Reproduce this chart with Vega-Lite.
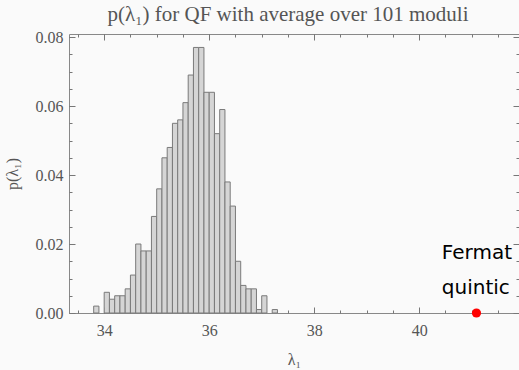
{
  "$schema": "https://vega.github.io/schema/vega-lite/v6.json",
  "width": 450,
  "height": 279,
  "autosize": {"type": "none"},
  "padding": {"left": 69, "top": 34, "right": 0, "bottom": 57},
  "background": "#fafafa",
  "title": {"text": "p(λ₁) for QF with average over 101 moduli", "font": "Liberation Serif", "fontSize": 21, "fontWeight": "normal", "color": "#555555", "offset": 4, "anchor": "middle", "dx": -6},
  "datasets": {
    "bins": [
      {"lo": 33.8, "hi": 33.9, "p": 0.002},
      {"lo": 34.0, "hi": 34.1, "p": 0.006},
      {"lo": 34.1, "hi": 34.2, "p": 0.004},
      {"lo": 34.2, "hi": 34.3, "p": 0.005},
      {"lo": 34.3, "hi": 34.4, "p": 0.005},
      {"lo": 34.4, "hi": 34.5, "p": 0.007},
      {"lo": 34.5, "hi": 34.6, "p": 0.011},
      {"lo": 34.6, "hi": 34.7, "p": 0.020},
      {"lo": 34.7, "hi": 34.8, "p": 0.018},
      {"lo": 34.8, "hi": 34.9, "p": 0.018},
      {"lo": 34.9, "hi": 35.0, "p": 0.028},
      {"lo": 35.0, "hi": 35.1, "p": 0.036},
      {"lo": 35.1, "hi": 35.2, "p": 0.045},
      {"lo": 35.2, "hi": 35.3, "p": 0.048},
      {"lo": 35.3, "hi": 35.4, "p": 0.055},
      {"lo": 35.4, "hi": 35.5, "p": 0.056},
      {"lo": 35.5, "hi": 35.6, "p": 0.061},
      {"lo": 35.6, "hi": 35.7, "p": 0.069},
      {"lo": 35.7, "hi": 35.8, "p": 0.077},
      {"lo": 35.8, "hi": 35.9, "p": 0.077},
      {"lo": 35.9, "hi": 36.0, "p": 0.064},
      {"lo": 36.0, "hi": 36.1, "p": 0.064},
      {"lo": 36.1, "hi": 36.2, "p": 0.052},
      {"lo": 36.2, "hi": 36.3, "p": 0.059},
      {"lo": 36.3, "hi": 36.4, "p": 0.038},
      {"lo": 36.4, "hi": 36.5, "p": 0.031},
      {"lo": 36.5, "hi": 36.6, "p": 0.015},
      {"lo": 36.6, "hi": 36.7, "p": 0.008},
      {"lo": 36.7, "hi": 36.8, "p": 0.007},
      {"lo": 36.8, "hi": 36.9, "p": 0.007},
      {"lo": 36.9, "hi": 37.0, "p": 0.001},
      {"lo": 37.0, "hi": 37.1, "p": 0.005},
      {"lo": 37.2, "hi": 37.3, "p": 0.001}
    ],
    "point": [{"lambda": 41.09, "p": 0}],
    "labels": [
      {"lambda": 40.43, "p": 0.0156, "text": "Fermat"},
      {"lambda": 40.43, "p": 0.0054, "text": "quintic"}
    ]
  },
  "config": {
    "view": {"stroke": "#888888", "strokeWidth": 1},
    "axis": {
      "domain": false,
      "grid": false,
      "zindex": 1,
      "tickColor": "#777777",
      "tickWidth": 1,
      "labelFont": "Liberation Serif",
      "labelFontSize": 16,
      "labelColor": "#555555",
      "titleFont": "Liberation Serif",
      "titleFontSize": 16,
      "titleFontWeight": "normal",
      "titleColor": "#555555"
    }
  },
  "resolve": {"axis": {"x": "independent", "y": "independent"}},
  "layer": [
    {
      "data": {"name": "bins"},
      "mark": {"type": "rect", "fill": "#d5d5d5", "stroke": "#7a7a7a", "strokeWidth": 1},
      "encoding": {
        "x": {"field": "lo", "type": "quantitative", "scale": {"domain": [33.33, 41.9], "nice": false, "zero": false},
              "axis": {"orient": "bottom", "values": [34, 36, 38, 40], "tickSize": -6, "labelPadding": 15, "title": "λ₁", "titlePadding": 13}},
        "x2": {"field": "hi"},
        "y": {"field": "p", "type": "quantitative", "scale": {"domain": [0, 0.0809], "nice": false, "zero": false},
              "axis": {"orient": "left", "values": [0, 0.02, 0.04, 0.06, 0.08], "format": ".2f", "tickSize": -6, "labelPadding": 12, "title": "p(λ₁)", "titlePadding": 15}},
        "y2": {"datum": 0}
      }
    },
    {
      "data": {"name": "point"},
      "mark": {"type": "circle", "size": 85, "color": "#ff0000", "opacity": 1},
      "encoding": {
        "x": {"field": "lambda", "type": "quantitative", "scale": {"domain": [33.33, 41.9], "nice": false, "zero": false},
              "axis": {"orient": "bottom", "values": [33.5, 34, 34.5, 35, 35.5, 36, 36.5, 37, 37.5, 38, 38.5, 39, 39.5, 40, 40.5, 41, 41.5], "tickSize": -3, "labels": false, "title": null}},
        "y": {"field": "p", "type": "quantitative", "scale": {"domain": [0, 0.0809], "nice": false, "zero": false},
              "axis": {"orient": "left", "values": [0, 0.005, 0.01, 0.015, 0.02, 0.025, 0.03, 0.035, 0.04, 0.045, 0.05, 0.055, 0.06, 0.065, 0.07, 0.075, 0.08], "tickSize": -3, "labels": false, "title": null}}
      }
    },
    {
      "data": {"name": "labels"},
      "transform": [{"filter": "datum.text == 'Fermat'"}],
      "mark": {"type": "text", "align": "left", "baseline": "alphabetic", "font": "DejaVu Sans", "fontSize": 20, "color": "#000000"},
      "encoding": {
        "x": {"field": "lambda", "type": "quantitative", "scale": {"domain": [33.33, 41.9], "nice": false, "zero": false},
              "axis": {"orient": "top", "values": [34, 36, 38, 40], "tickSize": -6, "labels": false, "title": null}},
        "y": {"field": "p", "type": "quantitative", "scale": {"domain": [0, 0.0809], "nice": false, "zero": false},
              "axis": {"orient": "right", "values": [0, 0.02, 0.04, 0.06, 0.08], "tickSize": -6, "labels": false, "title": null}},
        "text": {"field": "text"}
      }
    },
    {
      "data": {"name": "labels"},
      "transform": [{"filter": "datum.text == 'quintic'"}],
      "mark": {"type": "text", "align": "left", "baseline": "alphabetic", "font": "DejaVu Sans", "fontSize": 20, "color": "#000000"},
      "encoding": {
        "x": {"field": "lambda", "type": "quantitative", "scale": {"domain": [33.33, 41.9], "nice": false, "zero": false},
              "axis": {"orient": "top", "values": [33.5, 34, 34.5, 35, 35.5, 36, 36.5, 37, 37.5, 38, 38.5, 39, 39.5, 40, 40.5, 41, 41.5], "tickSize": -3, "labels": false, "title": null}},
        "y": {"field": "p", "type": "quantitative", "scale": {"domain": [0, 0.0809], "nice": false, "zero": false},
              "axis": {"orient": "right", "values": [0, 0.005, 0.01, 0.015, 0.02, 0.025, 0.03, 0.035, 0.04, 0.045, 0.05, 0.055, 0.06, 0.065, 0.07, 0.075, 0.08], "tickSize": -3, "labels": false, "title": null}},
        "text": {"field": "text"}
      }
    }
  ]
}
